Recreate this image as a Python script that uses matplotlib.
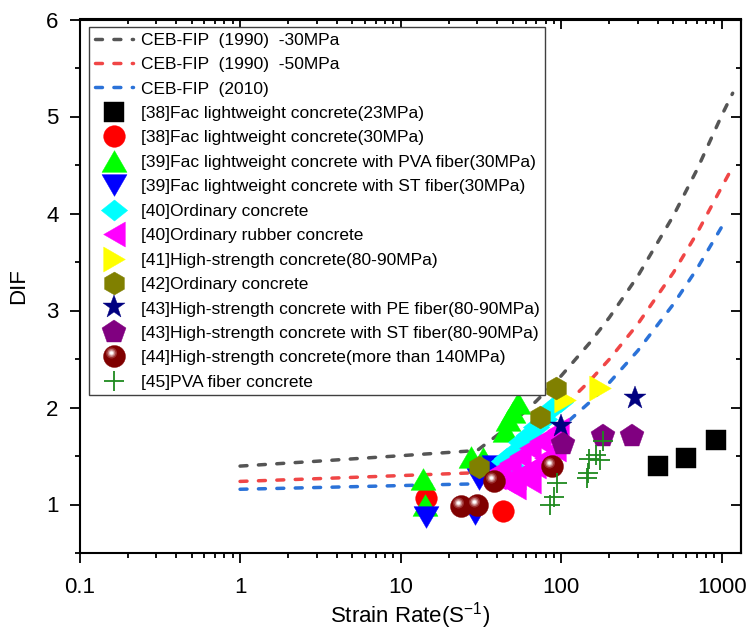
import numpy as np
import matplotlib
matplotlib.use('Agg')
import matplotlib.pyplot as plt
from matplotlib.path import Path
from matplotlib.markers import MarkerStyle
from matplotlib.legend_handler import HandlerTuple
from matplotlib.ticker import LogLocator, MultipleLocator, FixedLocator, FuncFormatter, NullFormatter

plt.rcParams['font.family'] = ['Liberation Sans', 'DejaVu Sans']
plt.rcParams['mathtext.default'] = 'regular'

# ---------------- data ----------------
curve_rate = [1, 3, 10, 20, 30, 40, 50, 70, 100, 150, 200, 300, 500, 700, 1000, 1170]
ceb1990_30 = [1.396, 1.446, 1.503, 1.537, 1.557, 1.714, 1.847, 2.066, 2.326, 2.663,
              2.930, 3.354, 3.977, 4.449, 5.011, 5.24]
ceb1990_50 = [1.238, 1.266, 1.298, 1.317, 1.328, 1.462, 1.575, 1.762, 1.984, 2.271,
              2.499, 2.860, 3.391, 3.794, 4.273, 4.48]
curve_rate_2010 = [1, 3, 10, 20, 30, 40, 50, 70, 100, 150, 200, 300, 500, 700, 1000, 1070]
ceb2010 = [1.157, 1.175, 1.195, 1.207, 1.213, 1.321, 1.423, 1.592, 1.793, 2.052,
           2.258, 2.585, 3.065, 3.428, 3.862, 3.93]

sq_x = [402, 601, 923]
sq_y = [1.40, 1.48, 1.67]

circ_x = [14.4, 43.3]
circ_y = [1.07, 0.93]

pva_x = [13.7, 14.2, 27.4, 32.8, 45, 46.5, 50, 54]
pva_y = [1.26, 1.00, 1.49, 1.48, 1.76, 1.87, 1.95, 2.05]

st_x = [14.4, 29, 31, 38]
st_y = [0.87, 0.90, 1.26, 1.40]

ord_x = [44, 46, 49, 52, 56, 63, 70, 78, 88, 98]
ord_y = [1.45, 1.48, 1.40, 1.55, 1.64, 1.72, 1.80, 1.88, 1.99, 2.06]

rub_x = [38.8, 41.7, 44.8, 48.1, 51.7, 51.7, 55.6, 59.7, 64.1, 64.1, 68.9, 74.0, 79.5,
         85.4, 91.8, 95.9]
rub_y = [1.28, 1.36, 1.24, 1.43, 1.28, 1.18, 1.50, 1.34, 1.58, 1.24, 1.40, 1.65, 1.48,
         1.71, 1.57, 1.77]

hs_x = [106, 175]
hs_y = [2.08, 2.20]

oc_x = [31.0, 73.3, 93.1]
oc_y = [1.39, 1.90, 2.20]

pe_x = [99.6, 289]
pe_y = [1.81, 2.10]

hst_x = [103, 182, 276]
hst_y = [1.62, 1.71, 1.71]

uhs_x = [23.8, 29.8, 37.9, 87.5]
uhs_y = [0.98, 1.00, 1.24, 1.40]

pvaf_x = [85.4, 90, 94.5, 145, 147, 150, 166, 175, 183]
pvaf_y = [1.00, 1.08, 1.22, 1.27, 1.32, 1.47, 1.51, 1.46, 1.65]

labels = [
    'CEB-FIP  (1990)  -30MPa',
    'CEB-FIP  (1990)  -50MPa',
    'CEB-FIP  (2010)',
    '[38]Fac lightweight concrete(23MPa)',
    '[38]Fac lightweight concrete(30MPa)',
    '[39]Fac lightweight concrete with PVA fiber(30MPa)',
    '[39]Fac lightweight concrete with ST fiber(30MPa)',
    '[40]Ordinary concrete',
    '[40]Ordinary rubber concrete',
    '[41]High-strength concrete(80-90MPa)',
    '[42]Ordinary concrete',
    '[43]High-strength concrete with PE fiber(80-90MPa)',
    '[43]High-strength concrete with ST fiber(80-90MPa)',
    '[44]High-strength concrete(more than 140MPa)',
    '[45]PVA fiber concrete',
]
x_ticks = [0.1, 1, 10, 100, 1000]
y_ticks = [1, 2, 3, 4, 5, 6]

# ---------------- figure ----------------
fig = plt.figure(figsize=(7.54, 6.32), dpi=100)
ax = fig.add_axes([79.5 / 754, 1 - 553 / 632, (740.7 - 79.5) / 754, (553 - 19.5) / 632])

dash = (0, (2.0, 3.3))
lw = 2.5
lkw = dict(lw=lw, ls=dash, dash_capstyle='round', zorder=1)
l1, = ax.plot(curve_rate, ceb1990_30, color='#555555', **lkw)
l2, = ax.plot(curve_rate, ceb1990_50, color='#F04646', **lkw)
l3, = ax.plot(curve_rate_2010, ceb2010, color='#2B72D8', **lkw)

tri_up = MarkerStyle([(0, 0.433), (-0.5, -0.433), (0.5, -0.433), (0, 0.433)])
tri_dn = MarkerStyle([(0, -0.433), (-0.5, 0.433), (0.5, 0.433), (0, -0.433)])
tri_lf = MarkerStyle([(-0.433, 0), (0.433, 0.5), (0.433, -0.5), (-0.433, 0)])
tri_rt = MarkerStyle([(0.433, 0), (-0.433, 0.5), (-0.433, -0.5), (0.433, 0)])
diam = MarkerStyle([(0, 0.4), (0.5, 0), (0, -0.4), (-0.5, 0), (0, 0.4)])

def mk(x, y, marker, ms, color, z=3):
    ln, = ax.plot(x, y, ls='none', marker=marker, ms=ms, color=color,
                  mec=color, mew=0.3, zorder=z)
    return ln

h_sq = mk(sq_x, sq_y, 's', 14.4, 'black')
h_ci = mk(circ_x, circ_y, 'o', 15.6, '#FF0000')
h_pva = mk(pva_x, pva_y, tri_up, 18, '#00FF00')
h_st = mk(st_x, st_y, tri_dn, 18, '#0000FF')
h_oc = mk(ord_x, ord_y, diam, 19, '#00FFFF')
h_rb = mk(rub_x, rub_y, tri_lf, 18, '#FF00FF')
h_hs = mk(hs_x, hs_y, tri_rt, 18, '#FFFF00')
h_hx = mk(oc_x, oc_y, 'h', 16.5, '#808000')
h_pe = mk(pe_x, pe_y, '*', 17, '#000080')
h_hst = mk(hst_x, hst_y, 'p', 17.5, '#800080')

# shaded ball markers
ball_layers = []
base = mk(uhs_x, uhs_y, 'o', 15.8, '#800000')
ball_layers.append(base)
for r, c in [(5.5, '#9c3030'), (4.0, '#c07878'), (2.6, '#e8c8c8'), (1.5, '#ffffff')]:
    p = Path.circle((-3.0, 3.5), r)
    resc = np.max(np.abs(p.vertices))
    ln, = ax.plot(uhs_x, uhs_y, ls='none', marker=MarkerStyle(p), ms=1.44 * resc,
                  color=c, mec=c, mew=0, zorder=3)
    ball_layers.append(ln)

h_px, = ax.plot(pvaf_x, pvaf_y, ls='none', marker='+', ms=14.4, mew=1.3,
                color='#1F8A1F', zorder=3)

# ---------------- axes ----------------
ax.set_xscale('log')
ax.set_xlim(0.1, 1313)
ax.set_ylim(0.5, 6)
ax.xaxis.set_major_locator(FixedLocator(x_ticks))
ax.xaxis.set_major_formatter(FuncFormatter(lambda v, p: '%g' % v))
ax.xaxis.set_minor_locator(LogLocator(base=10, subs=np.arange(2, 10)))
ax.xaxis.set_minor_formatter(NullFormatter())
ax.yaxis.set_major_locator(FixedLocator(y_ticks))
ax.yaxis.set_minor_locator(MultipleLocator(0.5))

for s in ax.spines.values():
    s.set_linewidth(1.5)
ax.tick_params(which='major', direction='out', length=7, width=1.3, labelsize=16,
               top=False, right=False)
ax.tick_params(which='minor', direction='out', length=3.6, width=1.3,
               top=False, right=False)
ax.tick_params(axis='x', which='major', pad=10)
ax.tick_params(axis='y', which='major', pad=8)

secx = ax.secondary_xaxis('top')
secx.xaxis.set_major_locator(FixedLocator(x_ticks))
secx.xaxis.set_minor_locator(LogLocator(base=10, subs=np.arange(2, 10)))
secx.tick_params(which='major', direction='in', length=7, width=1.3, labeltop=False)
secx.tick_params(which='minor', direction='in', length=3.6, width=1.3)
secx.xaxis.set_minor_formatter(NullFormatter())
secx.spines['top'].set_linewidth(1.5)

secy = ax.secondary_yaxis('right')
secy.yaxis.set_major_locator(FixedLocator(y_ticks))
secy.yaxis.set_minor_locator(MultipleLocator(0.5))
secy.tick_params(which='major', direction='in', length=7, width=1.3, labelright=False)
secy.tick_params(which='minor', direction='in', length=3.6, width=1.3)
secy.spines['right'].set_linewidth(1.5)

ax.set_xlabel('Strain Rate(S$^{-1}$)', fontsize=16, labelpad=2)
ax.set_ylabel('DIF', fontsize=16, labelpad=12)

handles = [l1, l2, l3, h_sq, h_ci, h_pva, h_st, h_oc, h_rb, h_hs, h_hx, h_pe, h_hst,
           tuple(ball_layers), h_px]
leg = ax.legend(handles, labels, loc='upper left', bbox_to_anchor=(0.0144, 0.986),
                borderaxespad=0, fontsize=12.5, labelspacing=0.535, handlelength=2.2,
                handletextpad=0.48, borderpad=0.32, fancybox=False, framealpha=1,
                edgecolor='#404040', handler_map={tuple: HandlerTuple(ndivide=1, pad=0)})
leg.get_frame().set_linewidth(1.0)
leg.set_zorder(10)

fig.savefig('out.png', dpi=100)
